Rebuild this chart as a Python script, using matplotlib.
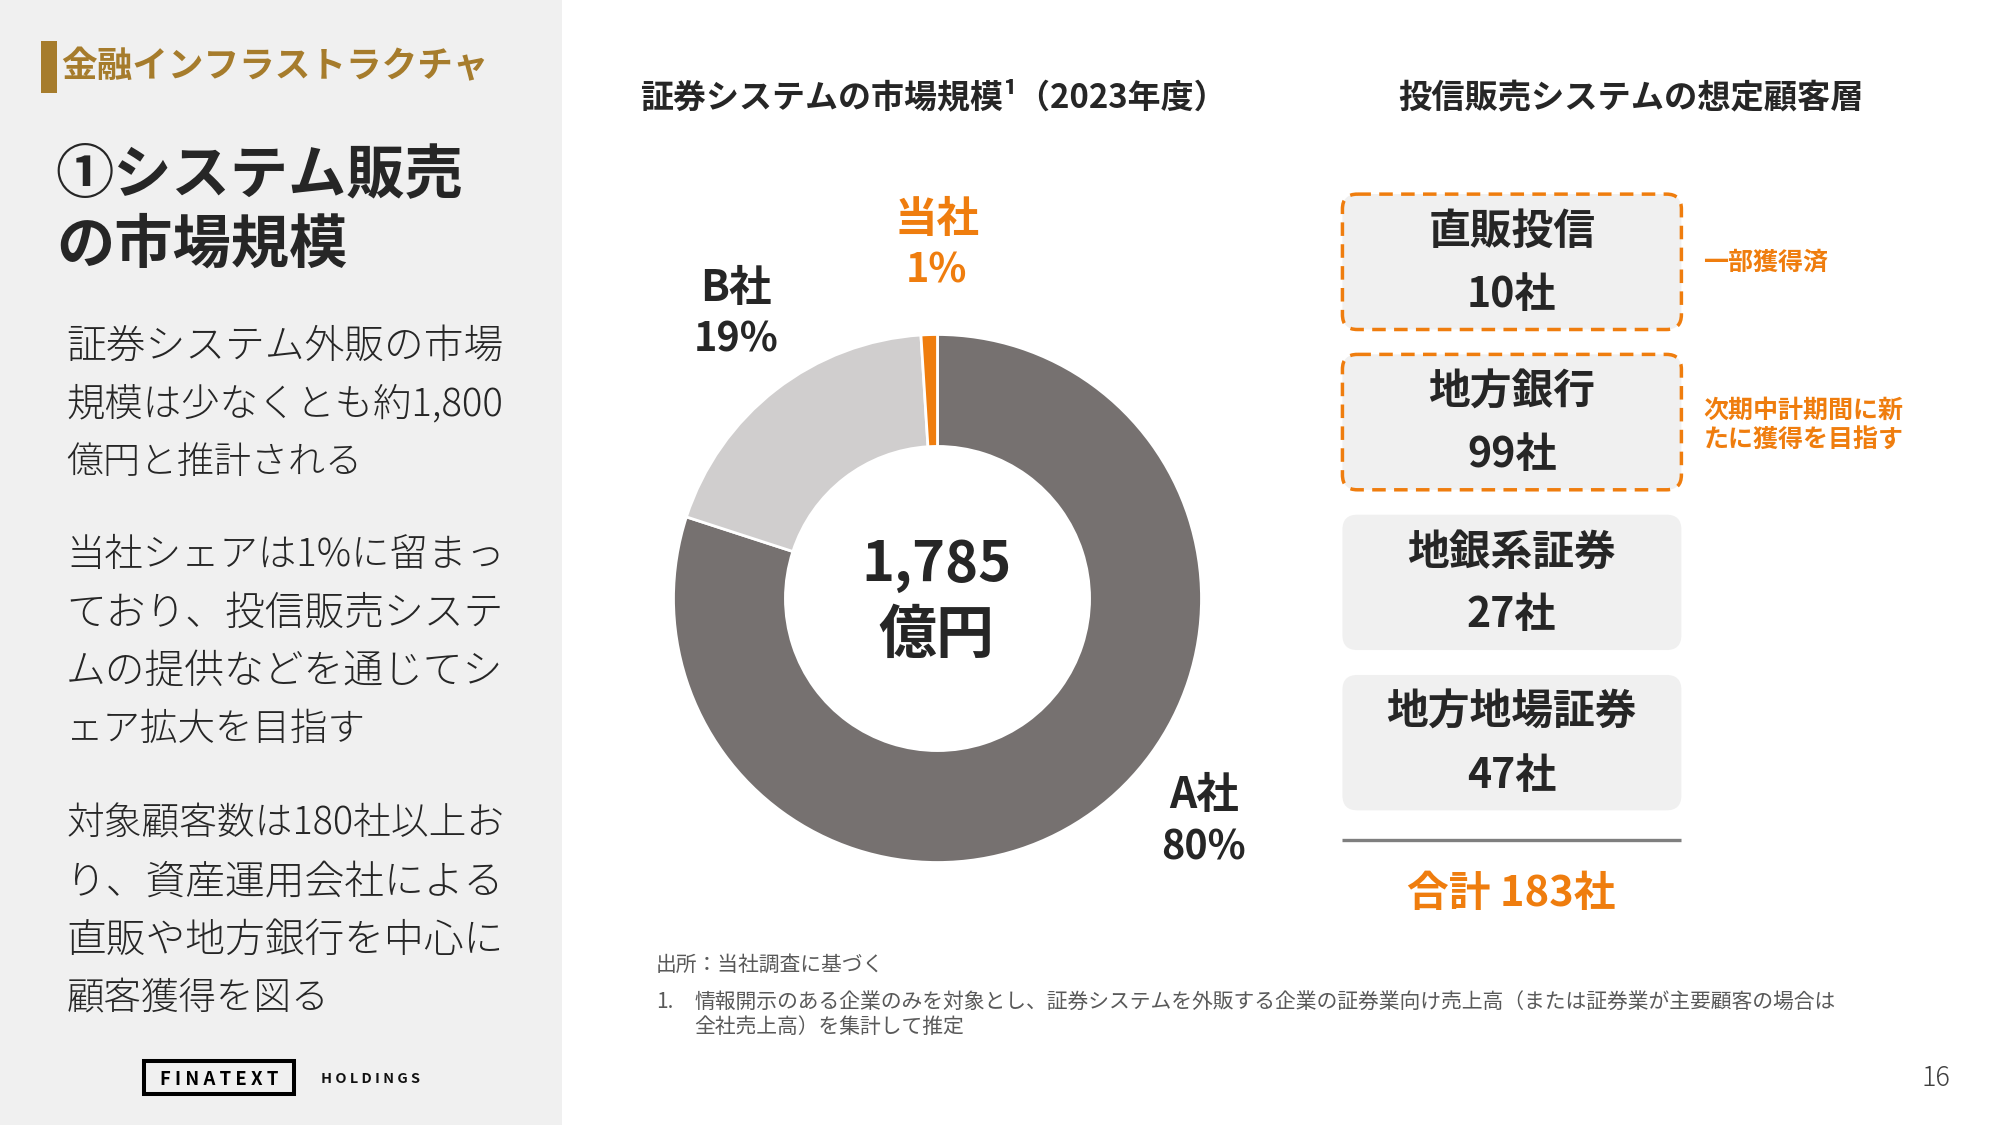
import matplotlib
matplotlib.use("Agg")
import matplotlib.pyplot as plt
from matplotlib.patches import FancyBboxPatch, Rectangle

plt.rcParams['font.family'] = ['Noto Sans CJK JP', 'DejaVu Sans']

# ---- data ----
share_labels = ["A社", "B社", "当社"]
share_values = [80, 19, 1]
market_total = "1,785"
market_unit = "億円"
segments = ["直販投信", "地方銀行", "地銀系証券", "地方地場証券"]
segment_counts = [10, 99, 27, 47]
body_lines = [
    ["証券システム外販の市場", "規模は少なくとも約1,800", "億円と推計される"],
    ["当社シェアは1%に留まっ", "ており、投信販売システ", "ムの提供などを通じてシ", "ェア拡大を目指す"],
    ["対象顧客数は180社以上お", "り、資産運用会社による", "直販や地方銀行を中心に", "顧客獲得を図る"],
]
body_centers = [[345, 403, 462], [555, 613, 672, 730], [825, 883, 942, 1000]]
body_sizes = [[39.8, 38.4, 37.0], [38.4, 39.8, 39.8, 37.5], [37.7, 39.8, 39.8, 37.5]]

# ---- colours ----
DARK = "#262626"
ORANGE = "#EF7D0E"
GOLD = "#A67C2C"
PANEL = "#F0F0F0"
GREY = "#595959"
donut_colors = ["#767170", "#D0CECE", ORANGE]

DPI = 100
S = 0.9955  # layout coordinates -> output pixels
fig = plt.figure(figsize=(20, 11.25), dpi=DPI, facecolor="white")
bg = fig.add_axes([0, 0, 1, 1])
bg.set_xlim(0, 2000 / S)
bg.set_ylim(1125 / S, 0)
bg.axis("off")


def T(x, yc, s, px, color=DARK, weight="normal", ha="left"):
    """Text placed by its visual centre line, sizes in pixels."""
    bg.text(x, yc + 0.36 * px, s, fontsize=px * 72 / DPI, color=color,
            fontweight=weight, ha=ha, va="baseline")


# left panel
bg.add_patch(Rectangle((0, 0), 564.5, 1130, fc=PANEL, ec="none"))
bg.add_patch(Rectangle((41.2, 41.2), 16, 52, fc=GOLD, ec="none"))
T(61.5, 65, "金融インフラストラクチャ", 35.6, GOLD, "bold")
T(56, 172, "①システム販売", 58.3, DARK, "bold")
T(57, 243, "の市場規模", 58.3, DARK, "bold")
for lines, centers, sizes in zip(body_lines, body_centers, body_sizes):
    for line, yc, px in zip(lines, centers, sizes):
        T(66.5, yc, line, px, DARK, 300)

# logo
bg.add_patch(Rectangle((144.6, 1065.8), 151, 33.1, fc="none", ec="black", lw=2.9))
T(220, 1083, "F I N A T E X T", 18.5, "black", "bold", "center")
T(371.7, 1083, "H O L D I N G S", 14.5, "#111111", "bold", "center")

# headings
T(643, 96, "証券システムの市場規模¹（2023年度）", 33, DARK, "bold")
T(1638, 96, "投信販売システムの想定顧客層", 33.3, DARK, "bold", "center")

# donut
cx, cy, r = 937.5, 598.5, 264
ax = fig.add_axes([(cx - r) / 2000, 1 - (cy + r) / 1125, 2 * r / 2000, 2 * r / 1125])
ax.pie(share_values, colors=donut_colors, startangle=90, counterclock=False, radius=1,
       wedgeprops=dict(width=0.424, edgecolor="white", linewidth=2))
ax.set_xlim(-1, 1)
ax.set_ylim(-1, 1)
ax.set_aspect("equal")
ax.axis("off")

label_pos = {"当社": (941, 218, 270, ORANGE), "B社": (739, 287, 339, DARK), "A社": (1209, 796, 849, DARK)}
for name, val in zip(share_labels, share_values):
    x, y1, y2, c = label_pos[name]
    T(x, y1, name, 42.5, c, "bold", "center")
    T(x, y2, f"{val}%", 39.5, c, "bold", "center")
T(941, 563, market_total, 56, DARK, "bold", "center")
T(941, 635, market_unit, 58, DARK, "bold", "center")

# customer boxes
box_tops = [195, 356, 517, 678]
box_h = 136
for i, (seg, n, top) in enumerate(zip(segments, segment_counts, box_tops)):
    dashed = i < 2
    bg.add_patch(FancyBboxPatch((1348.5, top), 340.5, box_h,
                                boxstyle="round,pad=0,rounding_size=15",
                                fc=PANEL, ec=ORANGE if dashed else "none",
                                lw=2.5 if dashed else 0,
                                ls=(0, (3.9, 2.4)) if dashed else "-"))
    T(1518.5, top + 35, seg, 41.8, DARK, "bold", "center")
    T(1518.5, top + 98.5, f"{n}社", 41, DARK, "bold", "center")

bg.plot([1348.5, 1689], [843.5, 843.5], color="#7F7F7F", lw=2.4, solid_capstyle="butt")
T(1518, 895, f"合計 {sum(segment_counts)}社", 41.7, ORANGE, "bold", "center")

# side notes
T(1711, 261.5, "一部獲得済", 25, ORANGE, "bold")
T(1711, 410.5, "次期中計期間に新", 25, ORANGE, "bold")
T(1711, 440, "たに獲得を目指す", 25, ORANGE, "bold")

# footnotes
T(659, 968, "出所：当社調査に基づく", 20.8, GREY)
T(659, 1005, "1.", 20.8, GREY)
T(697.5, 1005, "情報開示のある企業のみを対象とし、証券システムを外販する企業の証券業向け売上高（または証券業が主要顧客の場合は", 20.8, GREY)
T(697, 1030, "全社売上高）を集計して推定", 20.8, GREY)
T(1959, 1081, "16", 27, "#404040", 300, "right")

fig.savefig("out.png", dpi=DPI, facecolor="white")
